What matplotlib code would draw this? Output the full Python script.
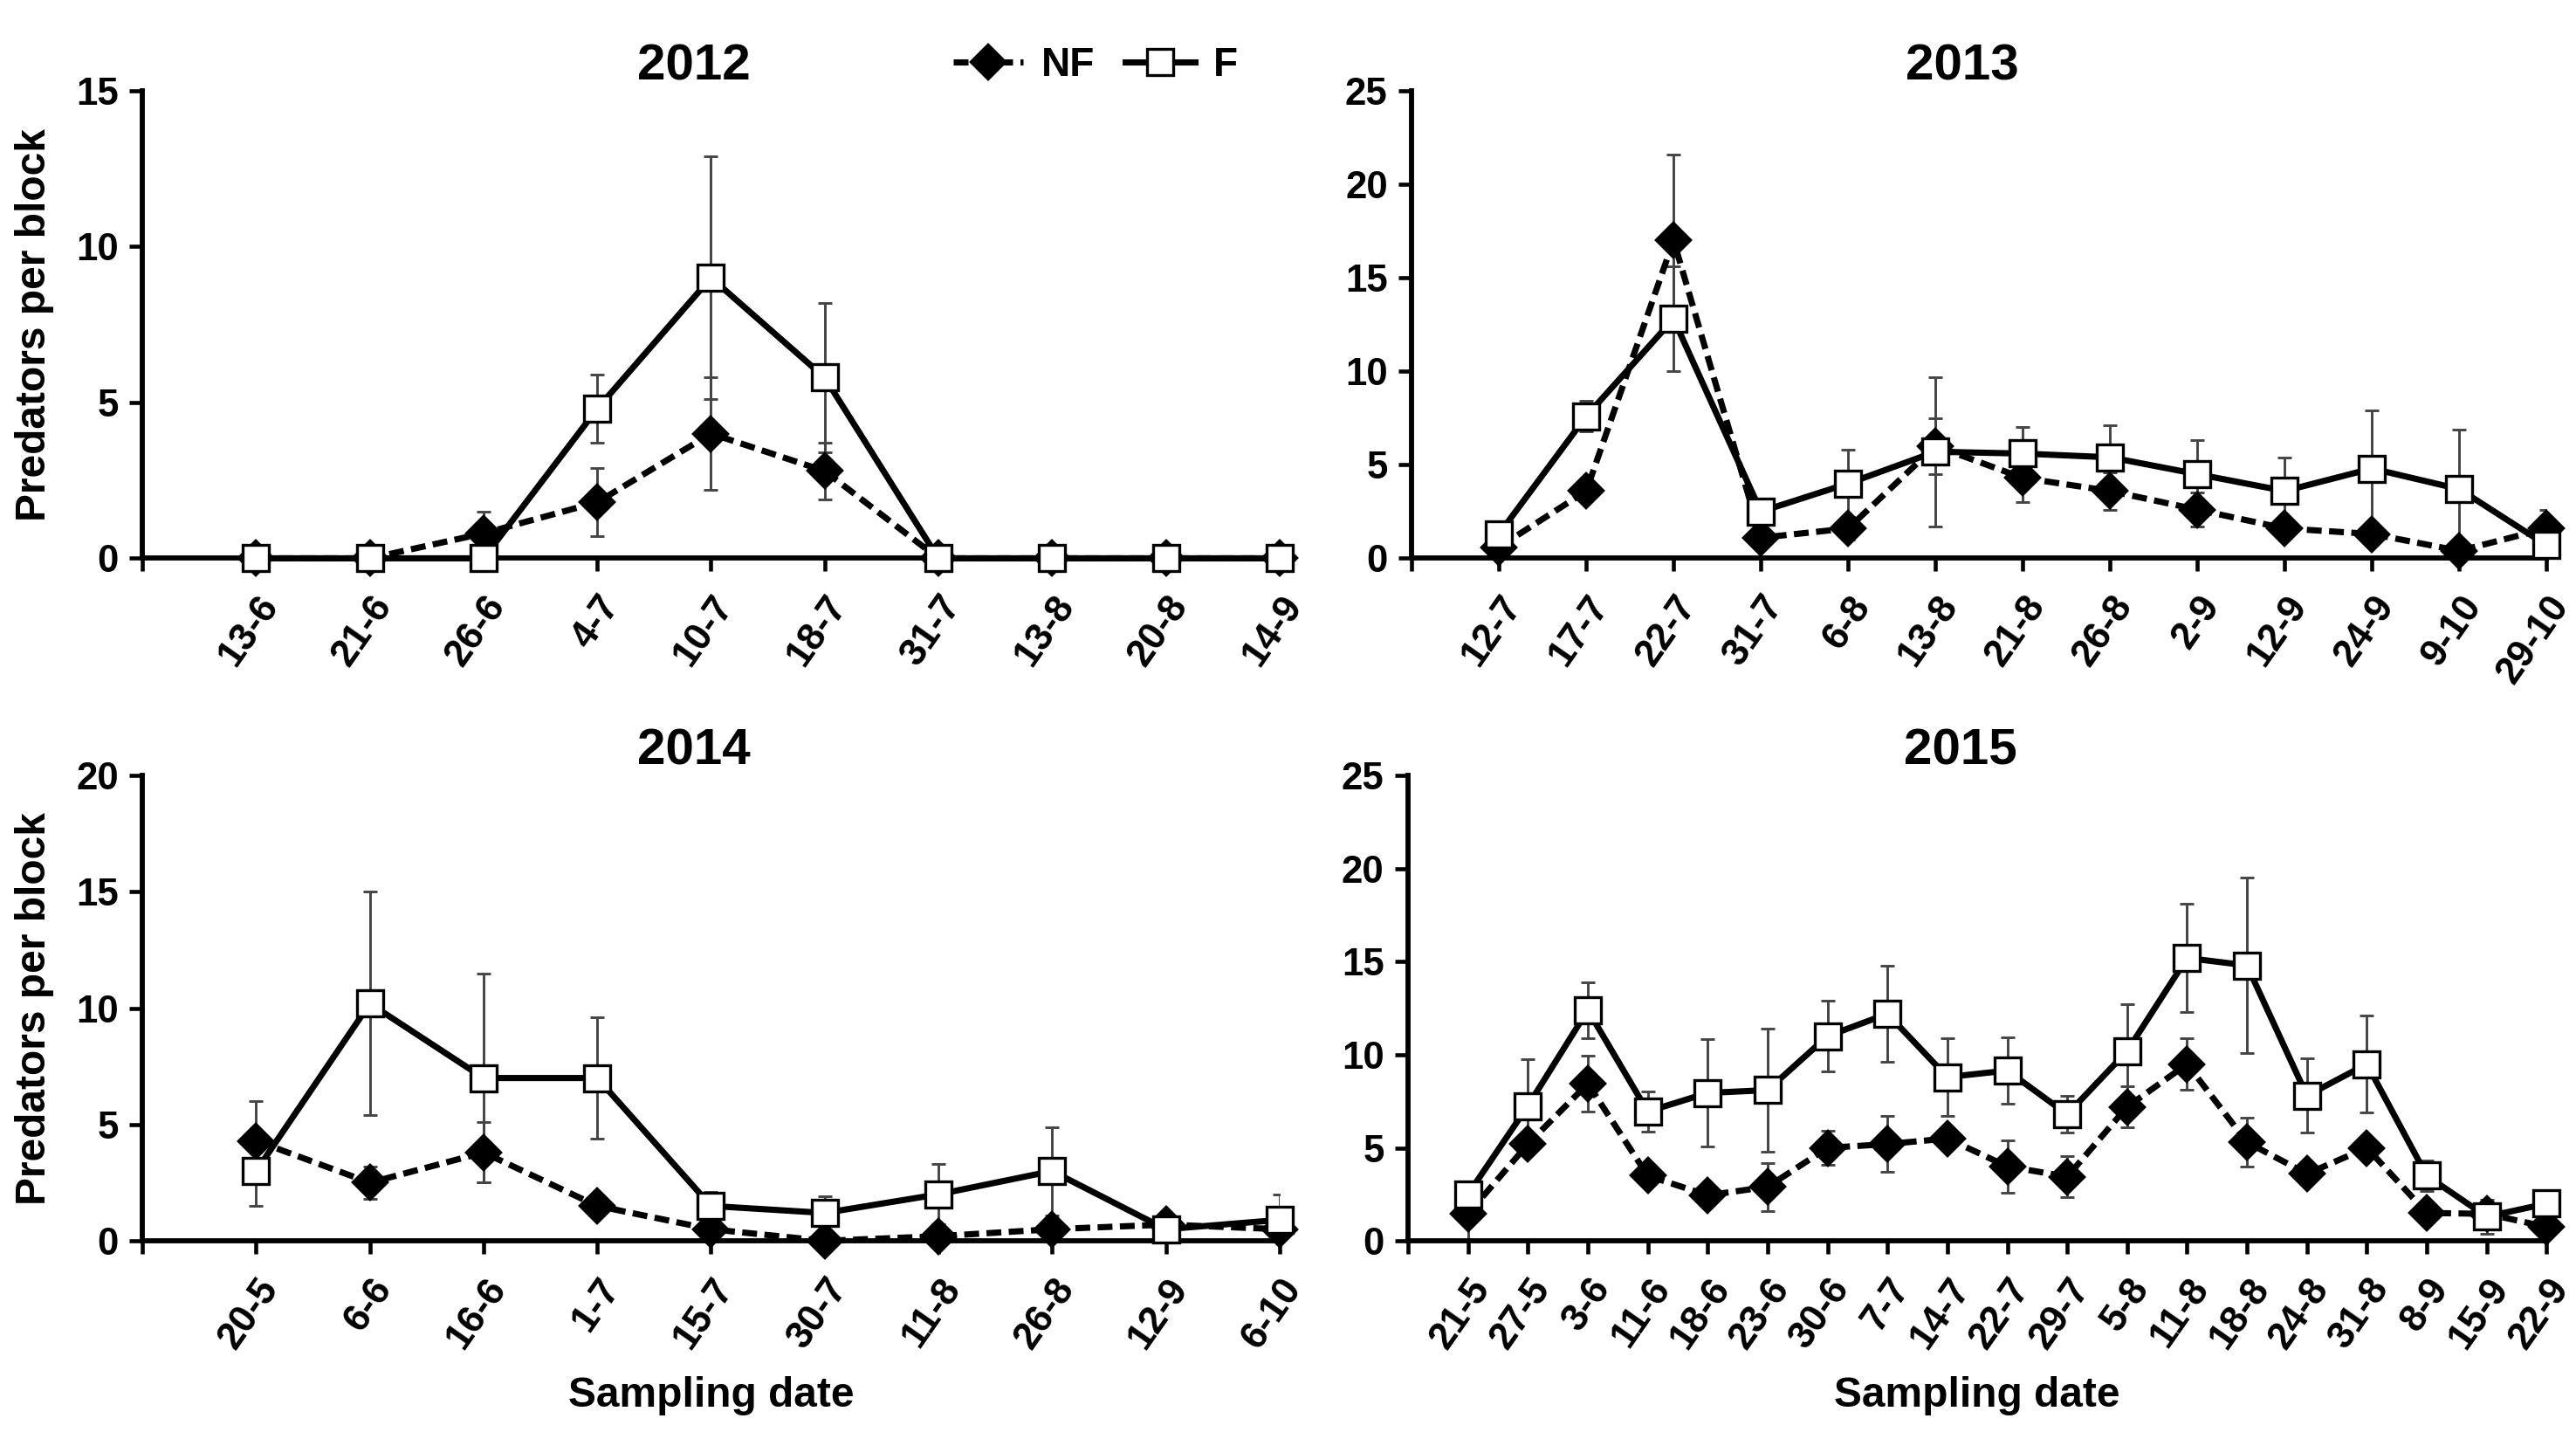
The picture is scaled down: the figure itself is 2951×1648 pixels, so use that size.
import numpy as np
import matplotlib.pyplot as plt

plt.rcParams['font.family'] = ['Liberation Sans', 'DejaVu Sans']
plt.rcParams['font.weight'] = 'bold'

# ---- data ----
dates_2012 = ['13-6', '21-6', '26-6', '4-7', '10-7', '18-7', '31-7', '13-8', '20-8', '14-9']
nf_2012 = [0, 0, 0.8, 1.8, 4.0, 2.8, 0, 0, 0, 0]
nf_err_2012 = [0, 0, 0.7, 1.1, 1.8, 0.9, 0, 0, 0, 0]
f_2012 = [0, 0, 0, 4.8, 9.0, 5.8, 0, 0, 0, 0]
f_err_2012 = [0, 0, 0, 1.1, 3.9, 2.4, 0, 0, 0, 0]

dates_2013 = ['12-7', '17-7', '22-7', '31-7', '6-8', '13-8', '21-8', '26-8', '2-9', '12-9', '24-9', '9-10', '29-10']
nf_2013 = [0.6, 3.6, 17.0, 1.1, 1.6, 6.0, 4.3, 3.6, 2.6, 1.6, 1.3, 0.4, 1.6]
nf_err_2013 = [0.3, 0.4, 4.6, 0.3, 0.6, 1.5, 1.3, 1.0, 0.9, 0.4, 0.4, 0.3, 1.0]
f_2013 = [1.3, 7.6, 12.8, 2.5, 4.0, 5.7, 5.6, 5.4, 4.5, 3.6, 4.8, 3.7, 0.7]
f_err_2013 = [0.3, 0.8, 2.8, 0.6, 1.8, 4.0, 1.4, 1.7, 1.8, 1.8, 3.1, 3.2, 0.3]

dates_2014 = ['20-5', '6-6', '16-6', '1-7', '15-7', '30-7', '11-8', '26-8', '12-9', '6-10']
nf_2014 = [4.3, 2.5, 3.8, 1.5, 0.5, 0.0, 0.2, 0.5, 0.7, 0.5]
nf_err_2014 = [1.7, 0.7, 1.3, 0.3, 0.2, 0.1, 0.2, 0.3, 0.2, 0.2]
f_2014 = [3.0, 10.2, 7.0, 7.0, 1.5, 1.2, 2.0, 3.0, 0.5, 0.9]
f_err_2014 = [1.5, 4.8, 4.5, 2.6, 0.6, 0.7, 1.3, 1.9, 0.3, 1.1]

dates_2015 = ['21-5', '27-5', '3-6', '11-6', '18-6', '23-6', '30-6', '7-7', '14-7', '22-7',
              '29-7', '5-8', '11-8', '18-8', '24-8', '31-8', '8-9', '15-9', '22-9']
nf_2015 = [1.45, 5.2, 8.45, 3.5, 2.45, 2.9, 5.0, 5.2, 5.5, 4.0,
           3.45, 7.2, 9.5, 5.3, 3.6, 5.0, 1.5, 1.45, 0.75]
nf_err_2015 = [1.4, 0.5, 1.5, 0.3, 0.2, 1.3, 0.9, 1.5, 0.4, 1.4,
               1.1, 1.1, 1.4, 1.3, 0.2, 0.3, 0.2, 0.6, 0.2]
f_2015 = [2.5, 7.25, 12.4, 6.95, 7.95, 8.1, 11.0, 12.2, 8.8, 9.15,
          6.8, 10.2, 15.2, 14.8, 7.8, 9.5, 3.5, 1.3, 2.0]
f_err_2015 = [0.2, 2.5, 1.5, 1.1, 2.9, 3.3, 1.9, 2.6, 2.1, 1.8,
              1.0, 2.5, 2.9, 4.7, 2.0, 2.6, 0.8, 0.9, 0.3]

panels = [
    ('2012', dates_2012, nf_2012, nf_err_2012, f_2012, f_err_2012, 15, [0.0553, 0.612, 0.4414, 0.325]),
    ('2013', dates_2013, nf_2013, nf_err_2013, f_2013, f_err_2013, 25, [0.548, 0.612, 0.4406, 0.325]),
    ('2014', dates_2014, nf_2014, nf_err_2014, f_2014, f_err_2014, 20, [0.0553, 0.1377, 0.4414, 0.3233]),
    ('2015', dates_2015, nf_2015, nf_err_2015, f_2015, f_err_2015, 25, [0.5466, 0.1377, 0.442, 0.3233]),
]

fig = plt.figure(figsize=(2951 / 300, 1648 / 300), dpi=300)

for i, (year, dates, nf, nf_err, f, f_err, ymax, pos) in enumerate(panels):
    ax = fig.add_axes(pos)
    x = np.arange(1, len(dates) + 1)
    ax.errorbar(x, nf, yerr=nf_err, fmt='none', ecolor='#444444', elinewidth=0.7, capsize=2, capthick=0.7, zorder=2)
    ax.errorbar(x, f, yerr=f_err, fmt='none', ecolor='#444444', elinewidth=0.7, capsize=2, capthick=0.7, zorder=2)
    ax.plot(x, nf, color='black', linestyle=(0, (2.4, 1.2)), linewidth=1.7, marker='D',
            markersize=6.5, markerfacecolor='black', markeredgecolor='black', label='NF', zorder=3, clip_on=False)
    ax.plot(x, f, color='black', linestyle='-', linewidth=1.7, marker='s',
            markersize=7, markerfacecolor='white', markeredgecolor='black', markeredgewidth=0.8,
            label='F', zorder=4, clip_on=False)

    ax.set_xlim(0, len(dates))
    ax.set_ylim(0, ymax)
    ax.set_yticks(np.arange(0, ymax + 1, 5))
    ax.set_xticks(np.arange(0, len(dates) + 1))
    ax.set_xticklabels([''] + dates, rotation=55, ha='right', rotation_mode='anchor')
    for s in ['top', 'right']:
        ax.spines[s].set_visible(False)
    for s in ['left', 'bottom']:
        ax.spines[s].set_linewidth(1.4)
    ax.tick_params(axis='both', direction='out', width=1.1, length=3.6, labelsize=10.5)
    ax.tick_params(axis='x', pad=5)
    ax.tick_params(axis='y', pad=3)
    for lab in ax.get_xticklabels() + ax.get_yticklabels():
        lab.set_fontweight('bold')
    ax.set_title(year, fontsize=14, fontweight='bold', pad=3, x=0.485)
    if i % 2 == 0:
        ax.set_ylabel('Predators per block', fontsize=11.5, fontweight='bold')
        ax.yaxis.set_label_coords(-0.078, 0.5)
    if i >= 2:
        ax.set_xlabel('Sampling date', fontsize=11.5, fontweight='bold')
        ax.xaxis.set_label_coords(0.5, -0.29)
    if i == 0:
        ax.legend(loc='center right', bbox_to_anchor=(0.963, 1.054), ncol=2, frameon=False,
                  fontsize=11, handlelength=1.75, columnspacing=0.75, handletextpad=0.45,
                  borderpad=0, borderaxespad=0)

fig.savefig('out.png', dpi=300, facecolor='white')
